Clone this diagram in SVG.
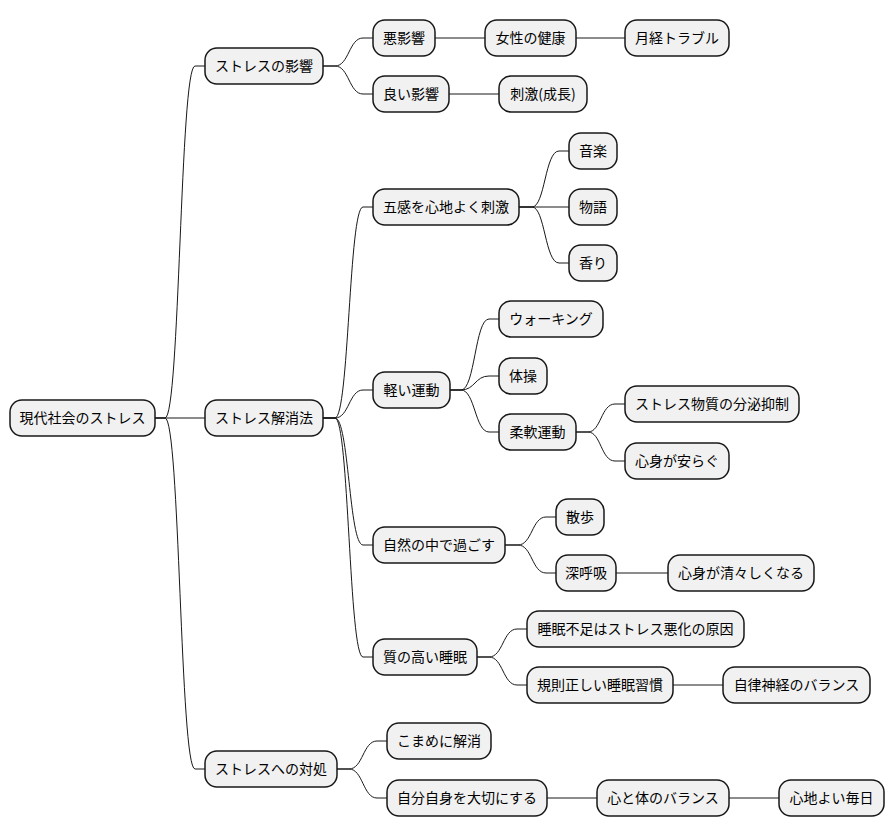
<svg xmlns="http://www.w3.org/2000/svg" width="894" height="837" viewBox="0 0 894 837">
<style>
.n rect{fill:#F1F1F1;stroke:#181818;stroke-width:1.5}
.n text{font-family:"Noto Sans CJK JP","Noto Sans",sans-serif;font-size:14px;fill:#000;text-anchor:middle}
#edges path{fill:none;stroke:#181818;stroke-width:1}
</style>
<rect width="894" height="837" fill="#fff"/>
<g id="edges">
<path d="M155,418 L165,418 C180,418 180,66 195,66 L205,66"/>
<path d="M155,418 L205,418"/>
<path d="M155,418 L165,418 C180,418 180,769 195,769 L205,769"/>
<path d="M323,66 L335,66 C349,66 349,38 363,38 L373,38"/>
<path d="M323,66 L335,66 C349,66 349,94 363,94 L373,94"/>
<path d="M435,38 L485,38"/>
<path d="M576,38 L625,38"/>
<path d="M449,94 L499,94"/>
<path d="M323,418 L335,418 C349,418 349,207 363,207 L373,207"/>
<path d="M323,418 L335,418 C349,418 349,390 363,390 L373,390"/>
<path d="M323,418 L335,418 C349,418 349,545 363,545 L373,545"/>
<path d="M323,418 L335,418 C349,418 349,657 363,657 L373,657"/>
<path d="M519,207 L532,207 C545,207 545,151 559,151 L569,151"/>
<path d="M519,207 L569,207"/>
<path d="M519,207 L532,207 C545,207 545,263 559,263 L569,263"/>
<path d="M450,390 L461,390 C475,390 475,319 489,319 L499,319"/>
<path d="M450,390 L461,390 C475,390 475,376 489,376 L499,376"/>
<path d="M450,390 L461,390 C475,390 475,432 489,432 L499,432"/>
<path d="M576,432 L588,432 C601,432 601,404 615,404 L625,404"/>
<path d="M576,432 L588,432 C601,432 601,461 615,461 L625,461"/>
<path d="M505,545 L518,545 C532,545 532,517 546,517 L556,517"/>
<path d="M505,545 L518,545 C532,545 532,573 546,573 L556,573"/>
<path d="M616,573 L668,573"/>
<path d="M477,657 L489,657 C503,657 503,629 517,629 L527,629"/>
<path d="M477,657 L489,657 C503,657 503,685 517,685 L527,685"/>
<path d="M673,685 L723,685"/>
<path d="M337,769 L349,769 C363,769 363,741 377,741 L387,741"/>
<path d="M337,769 L349,769 C363,769 363,798 377,798 L387,798"/>
<path d="M547,798 L597,798"/>
<path d="M729,798 L779,798"/>
</g>
<g id="root" class="n"><rect x="10" y="400" width="145" height="36" rx="12"/><text x="82.5" y="423">現代社会のストレス</text></g>
<g id="eikyo" class="n"><rect x="205" y="48" width="118" height="36" rx="12"/><text x="264" y="71">ストレスの影響</text></g>
<g id="akueikyo" class="n"><rect x="373" y="20" width="62" height="36" rx="12"/><text x="404" y="43">悪影響</text></g>
<g id="josei" class="n"><rect x="485" y="20" width="91" height="36" rx="12"/><text x="530.5" y="43">女性の健康</text></g>
<g id="gekkei" class="n"><rect x="625" y="20" width="104" height="36" rx="12"/><text x="677" y="43">月経トラブル</text></g>
<g id="yoieikyo" class="n"><rect x="373" y="76" width="76" height="36" rx="12"/><text x="411" y="99">良い影響</text></g>
<g id="shigeki" class="n"><rect x="499" y="76" width="88" height="36" rx="12"/><text x="543" y="99">刺激(成長)</text></g>
<g id="kaisho" class="n"><rect x="205" y="400" width="118" height="36" rx="12"/><text x="264" y="423">ストレス解消法</text></g>
<g id="gokan" class="n"><rect x="373" y="189" width="146" height="36" rx="12"/><text x="446" y="212">五感を心地よく刺激</text></g>
<g id="ongaku" class="n"><rect x="569" y="133" width="48" height="36" rx="12"/><text x="593" y="156">音楽</text></g>
<g id="monogatari" class="n"><rect x="569" y="189" width="48" height="36" rx="12"/><text x="593" y="212">物語</text></g>
<g id="kaori" class="n"><rect x="569" y="245" width="48" height="36" rx="12"/><text x="593" y="268">香り</text></g>
<g id="undo" class="n"><rect x="373" y="372" width="77" height="36" rx="12"/><text x="411.5" y="395">軽い運動</text></g>
<g id="walking" class="n"><rect x="499" y="301" width="104" height="36" rx="12"/><text x="551" y="324">ウォーキング</text></g>
<g id="taiso" class="n"><rect x="499" y="358" width="48" height="36" rx="12"/><text x="523" y="381">体操</text></g>
<g id="junan" class="n"><rect x="499" y="414" width="77" height="36" rx="12"/><text x="537.5" y="437">柔軟運動</text></g>
<g id="bunpi" class="n"><rect x="625" y="386" width="174" height="36" rx="12"/><text x="712" y="409">ストレス物質の分泌抑制</text></g>
<g id="yasuragu" class="n"><rect x="625" y="443" width="104" height="36" rx="12"/><text x="677" y="466">心身が安らぐ</text></g>
<g id="shizen" class="n"><rect x="373" y="527" width="132" height="36" rx="12"/><text x="439" y="550">自然の中で過ごす</text></g>
<g id="sanpo" class="n"><rect x="556" y="499" width="48" height="36" rx="12"/><text x="580" y="522">散歩</text></g>
<g id="shinkokyu" class="n"><rect x="556" y="555" width="60" height="36" rx="12"/><text x="586" y="578">深呼吸</text></g>
<g id="sugasuga" class="n"><rect x="668" y="555" width="146" height="36" rx="12"/><text x="741" y="578">心身が清々しくなる</text></g>
<g id="suimin" class="n"><rect x="373" y="639" width="104" height="36" rx="12"/><text x="425" y="662">質の高い睡眠</text></g>
<g id="busoku" class="n"><rect x="527" y="611" width="217" height="36" rx="12"/><text x="635.5" y="634">睡眠不足はストレス悪化の原因</text></g>
<g id="kisoku" class="n"><rect x="527" y="667" width="146" height="36" rx="12"/><text x="600" y="690">規則正しい睡眠習慣</text></g>
<g id="jiritsu" class="n"><rect x="723" y="667" width="147" height="36" rx="12"/><text x="796.5" y="690">自律神経のバランス</text></g>
<g id="taisho" class="n"><rect x="205" y="751" width="132" height="36" rx="12"/><text x="271" y="774">ストレスへの対処</text></g>
<g id="komame" class="n"><rect x="387" y="723" width="104" height="36" rx="12"/><text x="439" y="746">こまめに解消</text></g>
<g id="jibun" class="n"><rect x="387" y="780" width="160" height="36" rx="12"/><text x="467" y="803">自分自身を大切にする</text></g>
<g id="kokorokarada" class="n"><rect x="597" y="780" width="132" height="36" rx="12"/><text x="663" y="803">心と体のバランス</text></g>
<g id="mainichi" class="n"><rect x="779" y="780" width="105" height="36" rx="12"/><text x="831.5" y="803">心地よい毎日</text></g>
</svg>
